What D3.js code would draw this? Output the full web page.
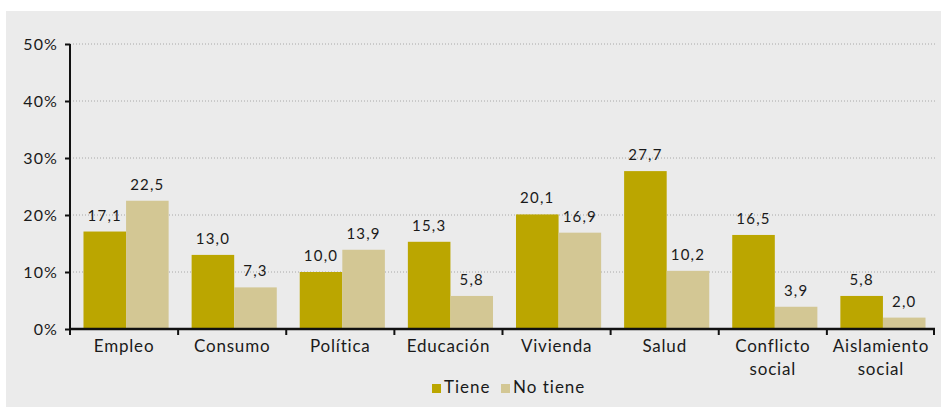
<!DOCTYPE html>
<html>
<head>
<meta charset="utf-8">
<script src="https://cdn.jsdelivr.net/npm/d3@7"></script>
<style>
  body { margin: 0; background: #fff; }
  text { font-family: Lato, "Noto Sans", sans-serif; fill: #1a1a1a; }
</style>
</head>
<body>
<div id="chart"></div>
<script>
var categories = ["Empleo", "Consumo", "Política", "Educación", "Vivienda", "Salud", "Conflicto social", "Aislamiento social"];
var tiene = [17.1, 13.0, 10.0, 15.3, 20.1, 27.7, 16.5, 5.8];
var noTiene = [22.5, 7.3, 13.9, 5.8, 16.9, 10.2, 3.9, 2.0];
var seriesNames = ["Tiene", "No tiene"];
var yTicks = [0, 10, 20, 30, 40, 50];

var colors = ["#bba600", "#d3c794"];

var W = 941, H = 407;
var margin = {top: 44, left: 70, right: 6, bottom: 78};

var svg = d3.select("#chart").append("svg")
    .attr("width", W)
    .attr("height", H);

// panel background
svg.append("rect")
    .attr("x", 6).attr("y", 11)
    .attr("width", W - 6).attr("height", H - 11)
    .attr("fill", "#ebebeb");

var x = d3.scaleBand()
    .domain(categories)
    .range([margin.left, W - margin.right]);

var xInner = d3.scaleBand()
    .domain(seriesNames)
    .range([2, x.bandwidth() + 2])
    .paddingInner(0)
    .paddingOuter(0.27);

var y = d3.scaleLinear()
    .domain([0, 50])
    .range([329, margin.top]);

// gridlines
svg.append("g").selectAll("line")
    .data(yTicks.filter(function(d){ return d > 0; }))
    .enter().append("line")
    .attr("x1", margin.left).attr("x2", W - margin.right)
    .attr("y1", function(d){ return y(d); })
    .attr("y2", function(d){ return y(d); })
    .attr("stroke", "#a8a8a8")
    .attr("stroke-width", 1)
    .attr("stroke-dasharray", "1,2");

var rows = categories.map(function(c, i) {
  return {cat: c, vals: [tiene[i], noTiene[i]]};
});

var groups = svg.append("g").selectAll("g")
    .data(rows)
    .enter().append("g")
    .attr("transform", function(d){ return "translate(" + x(d.cat) + ",0)"; });

groups.selectAll("rect")
    .data(function(d){ return d.vals.map(function(v, j){ return {name: seriesNames[j], v: v, j: j}; }); })
    .enter().append("rect")
    .attr("x", function(d){ return xInner(d.name); })
    .attr("width", xInner.bandwidth())
    .attr("y", function(d){ return y(d.v); })
    .attr("height", function(d){ return y(0) - y(d.v); })
    .attr("fill", function(d){ return colors[d.j]; });

groups.selectAll("text.val")
    .data(function(d){ return d.vals.map(function(v, j){ return {name: seriesNames[j], v: v}; }); })
    .enter().append("text")
    .attr("class", "val")
    .attr("x", function(d){ return xInner(d.name) + xInner.bandwidth() / 2; })
    .attr("y", function(d){ return y(d.v) - 11; })
    .attr("text-anchor", "middle")
    .style("font-size", "15px")
    .style("letter-spacing", "1.2px")
    .text(function(d){ return d3.format(".1f")(d.v).replace(".", ","); });

// y axis
var yAxis = svg.append("g")
    .attr("transform", "translate(" + margin.left + ",0)")
    .call(d3.axisLeft(y).tickValues(yTicks).tickSize(5).tickFormat(function(d){ return d + "%"; }));
yAxis.select(".domain").attr("stroke", "#111").attr("stroke-width", 2).attr("d", "M0," + y(50) + "V" + y(0));
yAxis.selectAll(".tick line").attr("stroke", "#111").attr("stroke-width", 2);
yAxis.selectAll(".tick text")
    .attr("x", -12)
    .style("font-size", "16px")
    .style("letter-spacing", "1.1px")
    .style("font-family", "Lato, sans-serif")
    .attr("fill", "#1a1a1a");

// x axis
var xAxis = svg.append("g")
    .attr("transform", "translate(0," + y(0) + ")");
xAxis.append("line")
    .attr("x1", margin.left - 1).attr("x2", W - margin.right)
    .attr("y1", 0).attr("y2", 0)
    .attr("stroke", "#111").attr("stroke-width", 2.5);
xAxis.selectAll("line.tk")
    .data(categories.map(function(c){ return x(c); }).concat([x.range()[1] - 1]))
    .enter().append("line")
    .attr("class", "tk")
    .attr("x1", function(d){ return d; }).attr("x2", function(d){ return d; })
    .attr("y1", 0).attr("y2", 6)
    .attr("stroke", "#111").attr("stroke-width", 2);

var catLabels = xAxis.selectAll("text.cat")
    .data(categories)
    .enter().append("text")
    .attr("class", "cat")
    .attr("text-anchor", "middle")
    .attr("x", function(d){ return x(d) + x.bandwidth() / 2; })
    .attr("y", 23)
    .style("font-size", "17px")
    .style("letter-spacing", "0.8px");
catLabels.each(function(d) {
  var words = d.split(" ");
  var t = d3.select(this);
  words.forEach(function(w, k) {
    t.append("tspan")
      .attr("x", x(d) + x.bandwidth() / 2)
      .attr("dy", k === 0 ? 0 : 23)
      .text(w);
  });
});

// legend
var legend = svg.append("g").attr("transform", "translate(432,384)");
var legX = [0, 69];
seriesNames.forEach(function(s, i) {
  legend.append("rect")
    .attr("x", legX[i]).attr("y", 0)
    .attr("width", 9).attr("height", 9)
    .attr("fill", colors[i]);
  legend.append("text")
    .attr("x", legX[i] + 12).attr("y", 9)
    .style("font-size", "17px")
    .style("letter-spacing", "1px")
    .text(s);
});
</script>
</body>
</html>
